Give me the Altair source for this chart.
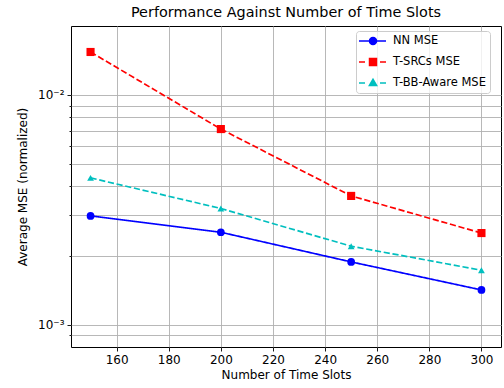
import altair as alt
import pandas as pd

# ---- data ----
time_slots = [150, 200, 250, 300]
nn_mse = [0.00298, 0.00253, 0.00188, 0.00142]
tsrc_mse = [0.01538, 0.00711, 0.00364, 0.00251]
tbb_mse = [0.00436, 0.00321, 0.00220, 0.00173]
series_names = ["NN MSE", "T-SRCs MSE", "T-BB-Aware MSE"]
x_ticks = [160, 180, 200, 220, 240, 260, 280, 300]
y_ticks = [0.0008, 0.0009, 0.001, 0.002, 0.003, 0.004, 0.005, 0.006, 0.007,
           0.008, 0.009, 0.01]

# ---- styles ----
colors = ["#0000ff", "#ff0000", "#00bfbf"]
dashes = [[1, 0], [6.2, 2.7], [6.2, 2.7]]
marker_shapes = ["circle", "square", "triangle-up"]
marker_sizes = [60, 66, 46]
legend_paths = [
    "M-1.4,0H4M0.72,0A0.68,0.68,0,1,0,2.08,0A0.68,0.68,0,1,0,0.72,0Z",
    "M-1.4,0H-0.2M2.8,0H4M0.72,-0.68H2.08V0.68H0.72Z",
    "M-1.4,0H-0.2M2.8,0H4M1.4,-0.72L2.1,0.5L0.7,0.5Z",
]

FONT = "DejaVu Sans"
FS = 12

rows = []
for name, vals in zip(series_names, [nn_mse, tsrc_mse, tbb_mse]):
    for xv, yv in zip(time_slots, vals):
        rows.append({"slots": xv, "mse": yv, "series": name})
df = pd.DataFrame(rows)

x_enc = alt.X(
    "slots:Q",
    scale=alt.Scale(domain=[142.5, 307.5], nice=False, zero=False),
    axis=alt.Axis(values=x_ticks, title="Number of Time Slots", tickSize=4,
                  labelPadding=3, titlePadding=4, format="d"),
)
major_test = "abs(datum.value - 0.01) < 1e-9 || abs(datum.value - 0.001) < 1e-10"
y_enc = alt.Y(
    "mse:Q",
    scale=alt.Scale(type="log", domain=[0.000802, 0.01995], nice=False),
    axis=alt.Axis(
        values=y_ticks,
        title="Average MSE (normalized)",
        labelExpr="abs(datum.value - 0.01) < 1e-9 ? '10⁻²' : (abs(datum.value - 0.001) < 1e-10 ? '10⁻³' : '')",
        tickSize={"condition": {"test": major_test, "value": 4}, "value": 2},
        labelPadding=3,
        titlePadding=8,
    ),
)

base = alt.Chart(df)

layers = []
for name, col, dash, shp, sz in zip(series_names, colors, dashes, marker_shapes, marker_sizes):
    sub = base.transform_filter(alt.datum.series == name)
    layers.append(
        sub.mark_line(strokeWidth=1.67, color=col, strokeDash=dash).encode(x=x_enc, y=y_enc)
    )
    layers.append(
        sub.mark_point(shape=shp, filled=True, size=sz, color=col, opacity=1).encode(x=x_enc, y=y_enc)
    )

leg = alt.Legend(
    title=None,
    orient="none",
    legendX=285,
    legendY=5,
    symbolSize=100,
    symbolStrokeWidth=1.67,
    labelOffset=21,
    padding=4,
    rowPadding=7,
    fillColor="rgba(255,255,255,0.8)",
    strokeColor="#cccccc",
    cornerRadius=3,
    labelFont=FONT,
    labelFontSize=11.5,
    labelColor="black",
)

legend_layer = base.transform_filter("false").mark_point(opacity=1, strokeWidth=1.67).encode(
    x=x_enc,
    y=y_enc,
    fill=alt.Fill("series:N", scale=alt.Scale(domain=series_names, range=colors), legend=leg),
    stroke=alt.Stroke("series:N", scale=alt.Scale(domain=series_names, range=colors), legend=leg),
    shape=alt.Shape("series:N", scale=alt.Scale(domain=series_names, range=legend_paths), legend=leg),
)

chart = alt.layer(*layers, legend_layer).properties(
    width=430,
    height=321,
    title=alt.TitleParams(
        "Performance Against Number of Time Slots",
        font=FONT, fontSize=14.4, fontWeight="normal", color="black",
        anchor="middle", frame="group", offset=6,
    ),
    autosize=alt.AutoSizeParams(type="none"),
    padding={"left": 71, "top": 26, "right": 3, "bottom": 41},
).configure_view(
    stroke="black", strokeWidth=1
).configure_axis(
    domain=False,
    grid=True,
    gridColor="#b0b0b0",
    gridWidth=0.9,
    tickColor="black",
    tickWidth=0.9,
    labelColor="black",
    titleColor="black",
    labelFont=FONT,
    titleFont=FONT,
    labelFontSize=FS,
    titleFontSize=FS,
    titleFontWeight="normal",
)

chart.save("out.html", embed_options={"renderer": "svg", "actions": False})
